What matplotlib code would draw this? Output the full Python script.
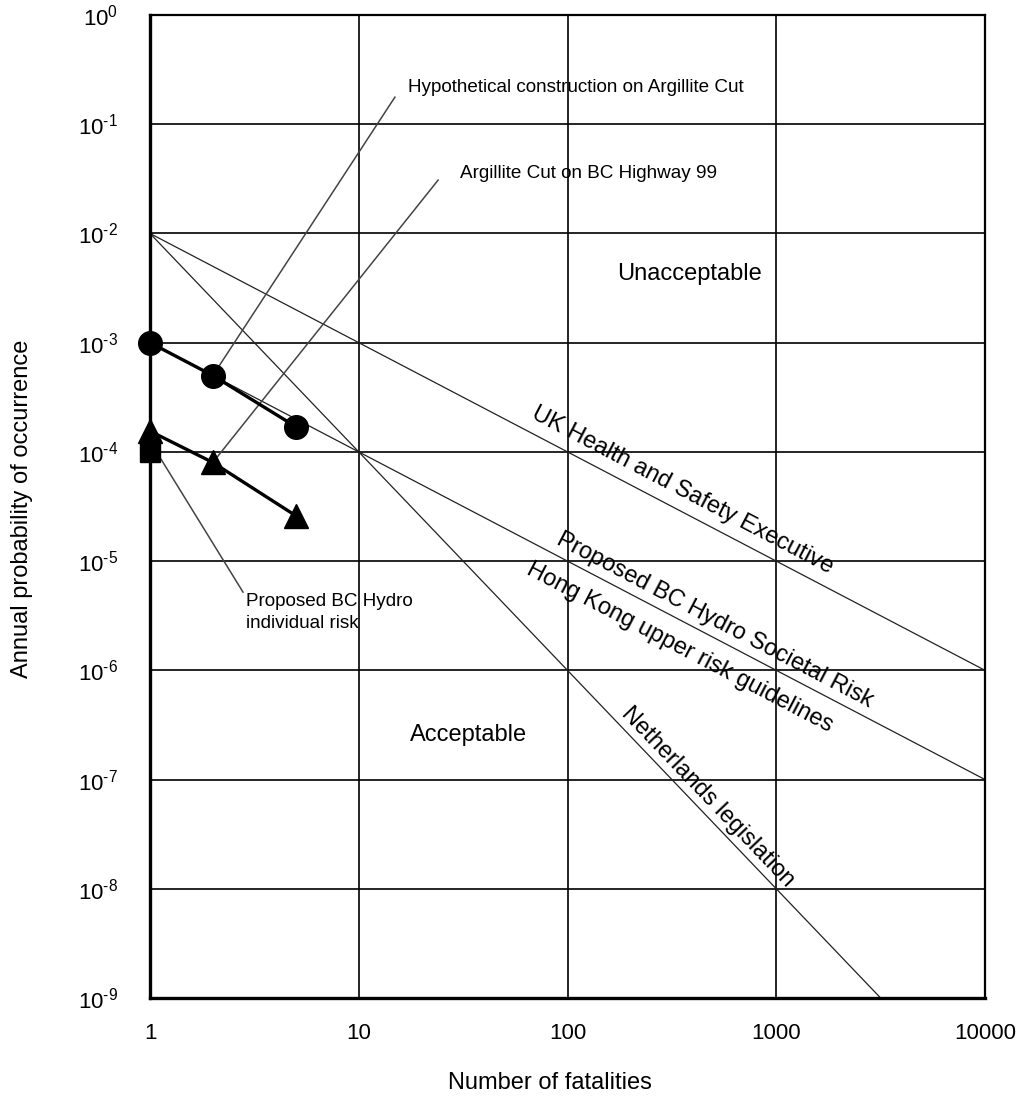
import matplotlib
matplotlib.use("Agg")
import matplotlib.pyplot as plt
import numpy as np

plt.rcParams['font.family'] = ['Liberation Sans', 'DejaVu Sans']
plt.rcParams['mathtext.fontset'] = 'custom'
plt.rcParams['mathtext.rm'] = 'Liberation Sans'
plt.rcParams['mathtext.it'] = 'Liberation Sans'

# ---- data ----
x_ticks = [1, 10, 100, 1000, 10000]
x_tick_labels = ['1', '10', '100', '1000', '10000']
y_exponents = [0, -1, -2, -3, -4, -5, -6, -7, -8, -9]

# criterion lines (endpoints)
uk_x = [1, 10000]
uk_y = [1e-2, 1e-6]
bch_x = [1, 10000]
bch_y = [1e-3, 1e-7]
nl_x = [1, 3162]
nl_y = [1e-2, 1e-9]

# case data
hyp_x = [1, 2, 5]
hyp_y = [1e-3, 5e-4, 1.7e-4]
arg_x = [1, 2, 5]
arg_y = [1.55e-4, 8e-5, 2.6e-5]
ind_x = [1]
ind_y = [1e-4]

fig = plt.figure(figsize=(10.19, 11.03), dpi=100)
ax = fig.add_axes([150/1019, 1-998/1103, (985-150)/1019, (998-15)/1103])
ax.set_xscale('log')
ax.set_yscale('log')
ax.set_xlim(1, 10000)
ax.set_ylim(1e-9, 1)

ax.set_xticks(x_ticks)
ax.set_xticklabels(x_tick_labels)
yt = [10.0**e for e in y_exponents]
ax.set_yticks(yt)
ax.set_yticklabels([r'$\mathregular{10^{\text{%d}}}$' % e for e in y_exponents])
ax.minorticks_off()
ax.tick_params(axis='both', length=0, labelsize=16)
ax.tick_params(axis='x', pad=18)
ax.tick_params(axis='y', pad=23)
ax.grid(True, color='black', linewidth=1.2)
ax.set_axisbelow(True)
for side in ['left', 'bottom']:
    ax.spines[side].set_linewidth(2.4)
for side in ['top', 'right']:
    ax.spines[side].set_linewidth(1.6)

ax.set_xlabel('Number of fatalities', fontsize=17)
ax.set_ylabel('Annual probability of occurrence', fontsize=17)
ax.xaxis.set_label_coords((550-150)/835, -(1083-998)/983)
ax.yaxis.set_label_coords(-(150-22)/835, (998-509)/983)
ax.xaxis.label.set_va('center')
ax.yaxis.label.set_va('center')

lc = '#222222'
ax.plot(uk_x, uk_y, color=lc, lw=0.9)
ax.plot(bch_x, bch_y, color=lc, lw=0.9)
ax.plot(nl_x, nl_y, color=lc, lw=0.9)

# annotation leader lines
ac = '#444444'
ax.plot([2, 14.9], [5e-4, 0.177], color=ac, lw=1.1, zorder=3)
ax.plot([2, 24.0], [8e-5, 0.0308], color=ac, lw=1.1, zorder=3)
ax.plot([1.12, 2.79], [8.8e-5, 5.2e-6], color=ac, lw=1.1, zorder=3)

ax.plot(hyp_x, hyp_y, color='black', lw=2.4, marker='o', ms=17, zorder=5, clip_on=False)
ax.plot(arg_x, arg_y, color='black', lw=2.4, marker='^', ms=17.5, zorder=5, clip_on=False)
ax.plot(ind_x, ind_y, color='black', lw=0, marker='s', ms=14, zorder=5, clip_on=False)

ax.text(17.2, 0.215, 'Hypothetical construction on Argillite Cut', fontsize=13.6,
        ha='left', va='center')
ax.text(30.5, 0.0357, 'Argillite Cut on BC Highway 99', fontsize=13.6,
        ha='left', va='center')
ax.text(2.88, 10**-5.293, 'Proposed BC Hydro\nindividual risk', fontsize=13.6,
        ha='left', va='top', linespacing=1.4)

ax.text(386, 4.25e-3, 'Unacceptable', fontsize=17, ha='center', va='center')
ax.text(33.4, 2.55e-7, 'Acceptable', fontsize=17, ha='center', va='center')

ang1 = -np.degrees(np.arctan(109.2/208.75))
ang2 = -np.degrees(np.arctan(2*109.2/208.75))
ax.text(357, 4.47e-5, 'UK Health and Safety Executive', fontsize=17, rotation=ang1,
        rotation_mode='anchor', ha='center', va='center')
ax.text(509, 2.88e-6, 'Proposed BC Hydro Societal Risk', fontsize=17, rotation=ang1,
        rotation_mode='anchor', ha='center', va='center')
ax.text(346, 1.6e-6, 'Hong Kong upper risk guidelines', fontsize=17, rotation=ang1,
        rotation_mode='anchor', ha='center', va='center')
ax.text(471, 6.9e-8, 'Netherlands legislation', fontsize=17, rotation=ang2,
        rotation_mode='anchor', ha='center', va='center')

fig.savefig('out.png', dpi=100)
